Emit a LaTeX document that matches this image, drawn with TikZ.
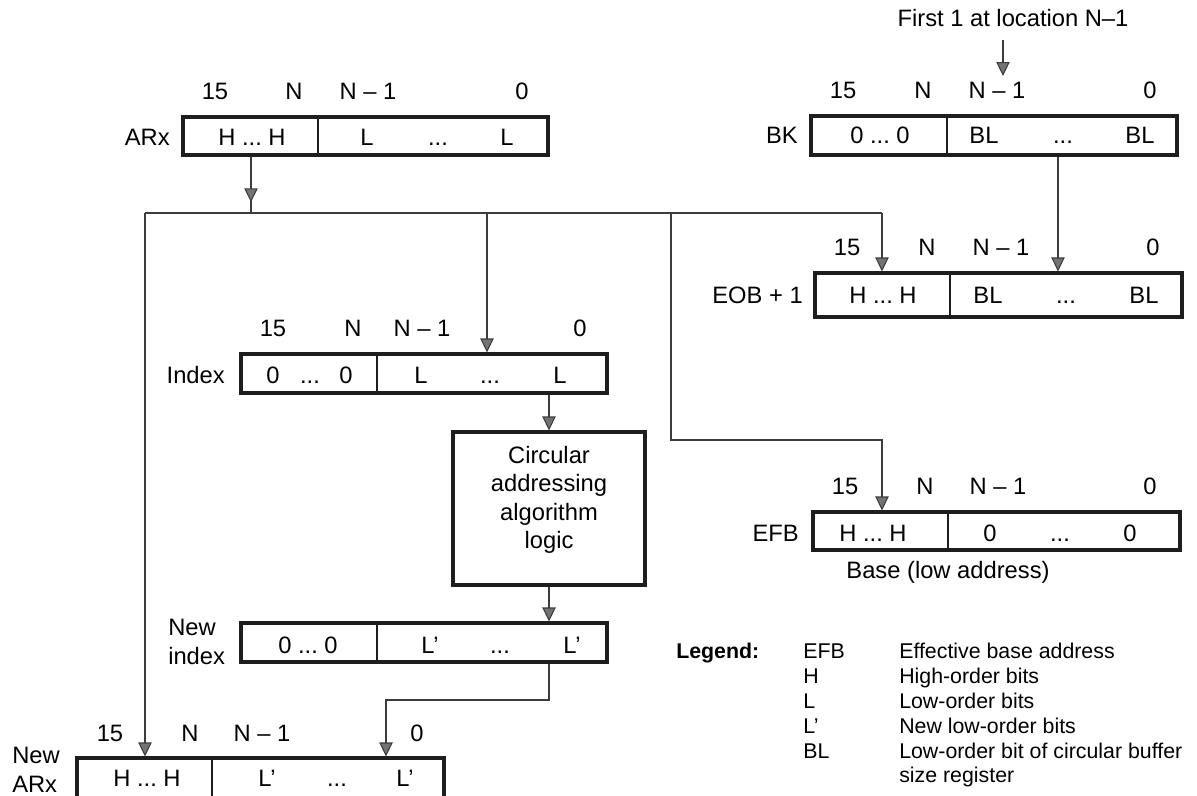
\documentclass[tikz,border=0pt]{standalone}
\usepackage{fontspec}
\setmainfont{Liberation Sans}
\usetikzlibrary{arrows.meta,positioning,fit,calc}
\definecolor{wire}{HTML}{3C3C3C}
\definecolor{frame}{HTML}{1E1E1E}
\newcommand{\elide}{...}
\tikzset{
  regbox/.style={draw=frame, line width=2.3pt, inner sep=0pt},
  logicbox/.style={regbox, align=center, font=\fontsize{17.8}{21.2}\selectfont},
  divider/.style={draw=frame, line width=0.8pt},
  conn/.style={draw=wire, line width=0.8pt},
  arr/.style={conn, -{Triangle[length=10.5pt,width=10pt,fill=black!55]}},
  bit/.style={font=\fontsize{17.8}{20}\selectfont, inner sep=0pt, text height=12.7pt, text depth=0pt},
  twoline/.style={font=\fontsize{17.8}{21.5}\selectfont, inner sep=0pt, align=left, anchor=west},
  legendtxt/.style={font=\fontsize{16}{19}\selectfont, inner sep=0pt, anchor=west,
    text height=11.4pt, text depth=0pt}
}

\begin{document}
\begin{tikzpicture}[x=0.75pt,y=-0.75pt]
  \useasboundingbox (0,0) rectangle (1197,796);

  % ARx register
  \node[regbox, fit={(183,117) (548,155)}] (arx) {};
  \draw[divider] (318,117) -- (318,155);
  \node[bit, anchor=east] (arx-name) at (170,137) {ARx};
  \foreach \t/\x [count=\i] in {15/215, N/294, N – 1/368, 0/522}
    \node[bit] (arx-h\i) at (\x,91) {\t};
  \foreach \t/\x [count=\i] in {H \elide\ H/252, L/367, \elide/438, L/507}
    \node[bit] (arx-c\i) at (\x,137) {\t};

  % BK register
  \node[bit] (first1) at (1013,18) {First 1 at location N–1};
  \coordinate (bkin) at (1003,76);
  \node[regbox, fit={(811,116) (1177,155)}] (bk) {};
  \draw[divider] (947,116) -- (947,155);
  \node[bit, anchor=east] (bk-name) at (798,135) {BK};
  \foreach \t/\x [count=\i] in {15/843, N/923, N – 1/997, 0/1150}
    \node[bit] (bk-h\i) at (\x,90) {\t};
  \foreach \t/\x [count=\i] in {0 \elide\ 0/880, BL/984, \elide/1063, BL/1140}
    \node[bit] (bk-c\i) at (\x,135) {\t};

  % EOB + 1 register
  \node[regbox, fit={(815,273) (1182,317)}] (eob) {};
  \draw[divider] (950,273) -- (950,317);
  \node[bit, anchor=east] (eob-name) at (803,295) {EOB + 1};
  \foreach \t/\x [count=\i] in {15/847, N/927, N – 1/1001, 0/1153}
    \node[bit] (eob-h\i) at (\x,247) {\t};
  \foreach \t/\x [count=\i] in {H \elide\ H/883, BL/988, \elide/1066, BL/1144}
    \node[bit] (eob-c\i) at (\x,295) {\t};

  % Index register
  \node[regbox, fit={(241,354) (607,393)}] (index) {};
  \draw[divider] (377,354) -- (377,393);
  \node[bit, anchor=east] (index-name) at (225,375) {Index};
  \foreach \t/\x [count=\i] in {15/273, N/353, N – 1/422, 0/580}
    \node[bit] (index-h\i) at (\x,328) {\t};
  \foreach \t/\x [count=\i] in {0/273, \elide/310, 0/346, L/421, \elide/490, L/560}
    \node[bit] (index-c\i) at (\x,375) {\t};

  % algorithm block
  \node[logicbox, fit={(453,432) (645,585)}] (logic) {Circular\\addressing\\algorithm\\logic};

  % New index register
  \node[regbox, fit={(241,623) (607,662)}] (newidx) {};
  \draw[divider] (377,623) -- (377,662);
  \node[twoline] (newidx-name) at (168,642) {New\\index};
  \foreach \t/\x [count=\i] in {0 \elide\ 0/308, L’/430, \elide/500, L’/572}
    \node[bit] (newidx-c\i) at (\x,645) {\t};

  % EFB register
  \node[regbox, fit={(813,512) (1180,550)}] (efb) {};
  \draw[divider] (948,512) -- (948,550);
  \node[bit, anchor=east] (efb-name) at (799,533) {EFB};
  \foreach \t/\x [count=\i] in {15/845, N/925, N – 1/998, 0/1150}
    \node[bit] (efb-h\i) at (\x,486) {\t};
  \foreach \t/\x [count=\i] in {H \elide\ H/873, 0/990, \elide/1060, 0/1130}
    \node[bit] (efb-c\i) at (\x,533) {\t};
  \node[bit] (efb-note) at (948,570) {Base (low address)};

  % New ARx register
  \node[regbox, fit={(77,758) (444,798)}] (newarx) {};
  \draw[divider] (212,758) -- (212,798);
  \node[twoline] (newarx-name) at (12,770) {New\\ARx};
  \foreach \t/\x [count=\i] in {15/110, N/190, N – 1/262, 0/417}
    \node[bit] (newarx-h\i) at (\x,733) {\t};
  \foreach \t/\x [count=\i] in {H \elide\ H/147, L’/267, \elide/337, L’/405}
    \node[bit] (newarx-c\i) at (\x,778) {\t};

  % connections
  \coordinate (busL) at (145,213);
  \coordinate (busR) at (882,213);
  \coordinate (arxdrop) at (251,213);
  \coordinate (idxdrop) at (487,213);
  \coordinate (efbdrop) at (671,213);
  \coordinate (efbturn) at (882,440);
  \coordinate (bkdrop) at (1058,0);
  \coordinate (nxturn) at (386,700);

  \draw[arr, shorten <=10pt] (first1.south -| bkin) -- (bkin);
  \draw[conn] (busL) -- (busR);
  \draw[conn] (arx.south -| arxdrop) -- (arxdrop);
  \draw[arr, shorten >=8pt] (arx.south -| arxdrop) -- (arxdrop);
  \draw[arr] (busL) -- (newarx.north -| busL);
  \draw[arr] (idxdrop) -- (index.north -| idxdrop);
  \draw[arr] (efbdrop) |- (efbturn) -- (efb.north -| efbturn);
  \draw[arr] (busR) -- (eob.north -| busR);
  \draw[arr] (bk.south -| bkdrop) -- (eob.north -| bkdrop);
  \draw[arr] (index.south -| logic.north) -- (logic.north);
  \draw[arr] (logic.south) -- (newidx.north -| logic.south);
  \draw[arr] (newidx.south -| logic.south) |- (nxturn) -- (newarx.north -| nxturn);

  % legend
  \node[legendtxt, font=\fontsize{16}{19}\selectfont\bfseries] (lg-title) at (676,651) {Legend:};
  \foreach \ab/\de/\y [count=\i] in {EFB/Effective base address/651, H/High-order bits/676,
      L/Low-order bits/701, L’/New low-order bits/726, BL/Low-order bit of circular buffer/751} {
    \node[legendtxt] (lg-ab\i) at (803,\y) {\ab};
    \node[legendtxt] (lg-de\i) at (899,\y) {\de};
  }
  \node[legendtxt] (lg-de6) at (899,775) {size register};
\end{tikzpicture}
\end{document}
